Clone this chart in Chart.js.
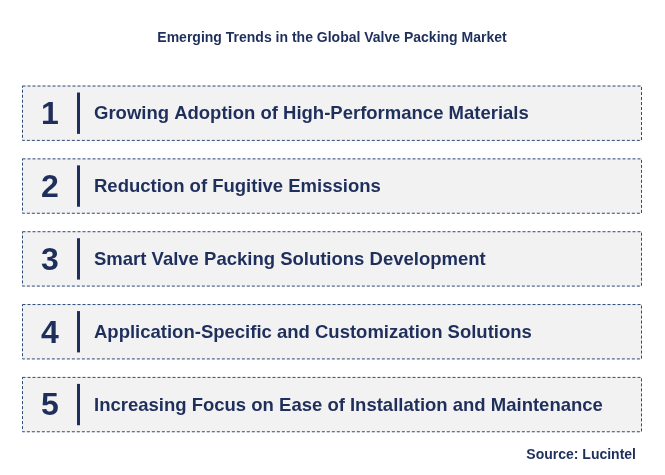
<!DOCTYPE html>
<html><head><meta charset="utf-8">
<script src="https://cdn.jsdelivr.net/npm/chart.js@4.4.1/dist/chart.umd.min.js"></script>
<style>html,body{margin:0;padding:0;background:#fff}#w{width:665px;height:475px}</style>
</head><body><div id="w"><canvas id="c"></canvas></div>
<script>
const numbers = ["1","2","3","4","5"];
const trends = [
  "Growing Adoption of High-Performance Materials",
  "Reduction of Fugitive Emissions",
  "Smart Valve Packing Solutions Development",
  "Application-Specific and Customization Solutions",
  "Increasing Focus on Ease of Installation and Maintenance"
];
const values = [1,1,1,1,1];
const titleText = "Emerging Trends in the Global Valve Packing Market";
const sourceText = "Source: Lucintel";
const navy = "#1f2f5c";

const deco = {
  id: 'deco',
  afterDatasetsDraw(chart) {
    const ctx = chart.ctx;
    const meta = chart.getDatasetMeta(0);
    meta.data.forEach((bar, i) => {
      const p = bar.getProps(['x','y','base','height'], true);
      const left = p.base, right = p.x, top = p.y - p.height/2, h = p.height;
      ctx.save();
      ctx.setLineDash([3,2]);
      ctx.strokeStyle = "#2e4a7a";
      ctx.lineWidth = 1;
      ctx.strokeRect(left+0.5, top+0.5, right-left-1, h-1);
      ctx.setLineDash([]);
      ctx.fillStyle = navy;
      ctx.font = "bold 32px 'Liberation Sans', Arial, sans-serif";
      ctx.textAlign = "center"; ctx.textBaseline = "middle";
      ctx.fillText(numbers[i], left + 28, p.y + 2);
      ctx.fillRect(left + 55, top + 7, 3, h - 14);
      ctx.font = "bold 18.5px 'Liberation Sans', Arial, sans-serif";
      ctx.textAlign = "left";
      ctx.fillText(trends[i], left + 72, p.y + 1);
      ctx.restore();
    });
    ctx.save();
    ctx.fillStyle = navy;
    ctx.font = "bold 14px 'Liberation Sans', Arial, sans-serif";
    ctx.textAlign = "right"; ctx.textBaseline = "middle";
    ctx.fillText(sourceText, 636, 455);
    ctx.restore();
  }
};

new Chart(document.getElementById('c'), {
  type: 'bar',
  data: { labels: numbers, datasets: [{ data: values, backgroundColor: "#f2f2f2", borderWidth: 0,
    barPercentage: 0.76, categoryPercentage: 1 }] },
  options: {
    indexAxis: 'y', responsive: true, maintainAspectRatio: false, animation: false,
    layout: { padding: { left: 22, right: 23, top: 0, bottom: 34 } },
    scales: { x: { display: false, min: 0, max: 1 }, y: { display: false } },
    plugins: {
      legend: { display: false }, tooltip: { enabled: false },
      title: { display: true, text: titleText, color: navy,
        font: { family: "'Liberation Sans', Arial, sans-serif", size: 14, weight: 'bold' },
        padding: { top: 30, bottom: 30 } }
    }
  },
  plugins: [deco]
});
</script></body></html>
